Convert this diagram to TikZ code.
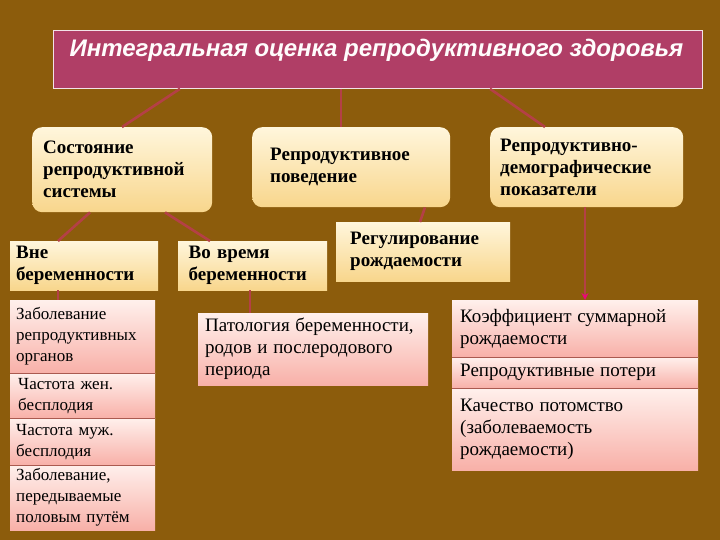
\documentclass[tikz,border=0pt]{standalone}
\usepackage{fontspec}
\setmainfont{Liberation Serif}
\newfontfamily\titlefont{Liberation Sans}
\usetikzlibrary{arrows.meta}
\definecolor{bg}{RGB}{140,92,12}
\definecolor{titlefill}{RGB}{176,62,102}
\definecolor{creamtop}{RGB}{255,246,220}
\definecolor{creambot}{RGB}{248,214,140}
\definecolor{pinktop}{RGB}{255,240,236}
\definecolor{pinkbot}{RGB}{248,176,168}
\definecolor{conn}{RGB}{180,64,70}
\definecolor{divline}{RGB}{170,90,80}
\tikzset{
  cream/.style={top color=creamtop,bottom color=creambot,anchor=north west,inner sep=0pt,align=left,font=\bfseries\fontsize{19}{22}\selectfont,text=black},
  rcream/.style={cream,rounded corners=10pt},
  pinkitem/.style={top color=pinktop,bottom color=pinkbot,anchor=north west,inner sep=0pt,align=left,font=\fontsize{17}{21}\selectfont,text=black},
  conline/.style={draw=conn,line width=2.6pt},
}
\begin{document}
\begin{tikzpicture}[x=1pt,y=-1pt]
\fill[bg] (0,0) rectangle (720,540);
\useasboundingbox (0,0) rectangle (720,540);
% title
\node[draw=white!85!titlefill,line width=0.8pt,fill=titlefill,anchor=north west,minimum width=649pt,minimum height=58pt,inner sep=0pt] (title) at (53,30) {};
\node[anchor=west,text=white!95!pink,font=\titlefont\bfseries\itshape\fontsize{24}{28}\selectfont] (tt) at (66,50) {Интегральная оценка репродуктивного здоровья};
% level 1
\node[rcream,minimum width=180pt,minimum height=85pt,text width=170pt] (sost) at (32,127) {\hspace*{6pt}\parbox{166pt}{Состояние\\репродуктивной\\системы}};
\node[rcream,minimum width=198pt,minimum height=80pt,text width=190pt] (pov) at (252,127) {\hspace*{14pt}\parbox{176pt}{Репродуктивное\\поведение}};
\node[rcream,minimum width=193pt,minimum height=80pt,text width=185pt] (dem) at (490,127) {\hspace*{6pt}\parbox{180pt}{Репродуктивно-\\демографические\\показатели}};
% level 2
\node[cream,minimum width=148pt,minimum height=49pt,text width=144pt] (vne) at (10,241) {\hspace*{4pt}\parbox{140pt}{Вне\\беременности}};
\node[cream,minimum width=149pt,minimum height=49pt,text width=144pt] (vo) at (178,241) {\hspace*{8pt}\parbox{138pt}{Во время\\беременности}};
\node[cream,minimum width=174pt,minimum height=59pt,text width=170pt] (reg) at (336,222) {\hspace*{12pt}\parbox{156pt}{Регулирование\\рождаемости}};
% left list
\node[pinkitem,minimum width=145pt,minimum height=73pt,text width=141pt] (l1) at (10,300) {\hspace*{4pt}\parbox{137pt}{Заболевание\\репродуктивных\\органов}};
\node[pinkitem,minimum width=145pt,minimum height=45pt,text width=141pt] (l2) at (10,373) {\hspace*{6pt}\parbox{135pt}{Частота жен.\\бесплодия}};
\node[pinkitem,minimum width=145pt,minimum height=47pt,text width=141pt] (l3) at (10,418) {\hspace*{4pt}\parbox{137pt}{Частота муж.\\бесплодия}};
\node[pinkitem,minimum width=145pt,minimum height=65pt,text width=141pt] (l4) at (10,465) {\hspace*{4pt}\parbox{137pt}{Заболевание,\\передываемые\\половым путём}};
\draw[divline,line width=0.6pt] (l2.north west) -- (l2.north east) (l3.north west) -- (l3.north east) (l4.north west) -- (l4.north east);
% pathology
\node[pinkitem,minimum width=230pt,minimum height=72pt,text width=226pt] (pat) at (198,313) {\hspace*{5pt}\parbox{221pt}{\fontsize{19}{22}\selectfont Патология беременности,\\родов и послеродового\\периода}};
% right list
\node[pinkitem,minimum width=246pt,minimum height=57pt,text width=242pt] (r1) at (452,300) {\hspace*{6pt}\parbox{236pt}{\fontsize{19}{22}\selectfont Коэффициент суммарной\\рождаемости}};
\node[pinkitem,minimum width=246pt,minimum height=31pt,text width=242pt] (r2) at (452,357) {\hspace*{6pt}\parbox{236pt}{\fontsize{19}{22}\selectfont Репродуктивные потери}};
\node[pinkitem,minimum width=246pt,minimum height=82pt,text width=242pt] (r3) at (452,388) {\hspace*{6pt}\parbox{236pt}{\fontsize{19}{22}\selectfont Качество потомство\\(заболеваемость\\рождаемости)}};
\draw[divline,line width=0.6pt] (r2.north west) -- (r2.north east) (r3.north west) -- (r3.north east);
% connectors
\draw[conline] ([xshift=127pt]title.south west) -- ([xshift=90pt]sost.north west);
\draw[conline] ([xshift=288pt]title.south west) -- ([xshift=89pt]pov.north west);
\draw[conline] ([xshift=437pt]title.south west) -- ([xshift=55pt]dem.north west);
\draw[conline] ([xshift=58pt]sost.south west) -- ([xshift=48pt]vne.north west);
\draw[conline] ([xshift=133pt]sost.south west) -- ([xshift=32pt]vo.north west);
\draw[conline] ([xshift=173pt]pov.south west) -- ([xshift=84pt]reg.north west);
\draw[conline] ([xshift=48pt]vne.south west) -- ([xshift=48pt]l1.north west);
\draw[conline] ([xshift=72pt]vo.south west) -- ([xshift=52pt]pat.north west);
\draw[conline,-{Stealth[length=7pt,width=7pt,color=magenta!80!red]}] ([xshift=95pt]dem.south west) -- ([xshift=133pt]r1.north west);
\end{tikzpicture}
\end{document}
